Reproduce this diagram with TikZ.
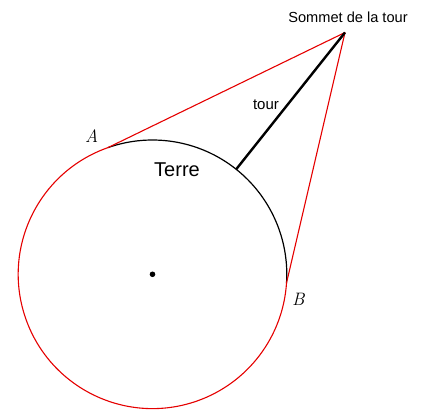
\documentclass[tikz,border=0pt]{standalone}
\usepackage{fontspec}
\newfontfamily\arialf{Liberation Sans}
\begin{document}
\begin{tikzpicture}[x=1pt,y=1pt,
  earth/.style={line width=1.2pt},
  redline/.style={red!90!black,line width=1.1pt},
  tower/.style={line width=2.4pt},
  lbl/.style={anchor=base,inner sep=0pt}]
\useasboundingbox (0,0) rectangle (423,410);
\coordinate (C) at (152.5,135.7);
\coordinate (P) at (345,377.5);
\path (C) ++(109.4:134.3) coordinate (A);
\path (C) ++(-3.7:134.3) coordinate (B);
\path (C) ++(51.45:134.3) coordinate (T);
% black arc over the top
\draw[earth] (A) arc[start angle=109.4,end angle=-3.7,radius=134.3];
% red arc around the bottom
\draw[redline] (A) arc[start angle=109.4,end angle=356.3,radius=134.3];
% tangent lines
\draw[redline] (P) -- (A);
\draw[redline] (P) -- (B);
% tower
\draw[tower] (T) -- (P);
% centre dot
\fill (C) circle (2.8);
% labels
\node[lbl] (sommet) at (348,387) {\arialf\fontsize{14.6}{16}\selectfont Sommet de la tour};
\node[lbl] (terre) at (177,233.3) {\arialf\fontsize{20}{22}\selectfont Terre};
\node[lbl] (tourl) at (266,300) {\arialf\fontsize{15}{17}\selectfont tour};
\node[lbl] (la) at (91.7,267.3) {\fontsize{18}{20}\selectfont\itshape A};
\node[lbl] (lb) at (298.3,104) {\fontsize{18}{20}\selectfont\itshape B};
\end{tikzpicture}
\end{document}
